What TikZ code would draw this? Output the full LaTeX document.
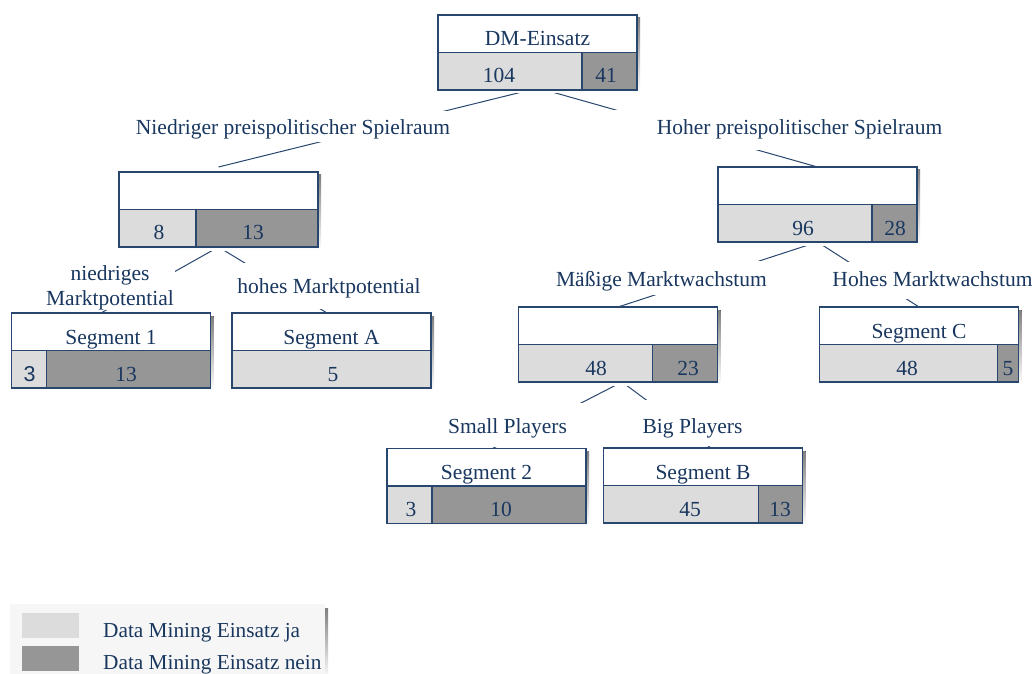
\documentclass[tikz,border=0pt]{standalone}
\usepackage{fontspec}
\setmainfont{Liberation Serif}
\setsansfont{Liberation Sans}
\usetikzlibrary{positioning}
\usetikzlibrary{backgrounds}

\definecolor{txt}{RGB}{25,55,95}
\definecolor{edge}{RGB}{40,70,110}
\definecolor{ja}{RGB}{220,220,220}
\definecolor{nein}{RGB}{150,150,150}
\definecolor{shade}{RGB}{225,223,200}
\definecolor{legbg}{RGB}{246,246,246}

\begin{document}
\begin{tikzpicture}[x=1pt, y=-1pt,
    every node/.style={text=txt, font=\fontsize{21.5pt}{25pt}\selectfont},
    box/.style={fill=white, minimum width=199pt, minimum height=75pt, inner sep=0pt, outer sep=0pt},
    boxline/.style={draw=edge, line width=1.3pt},
    conn/.style={draw=edge, line width=1pt},
    lab/.style={fill=white, anchor=base, inner xsep=1pt, inner ysep=0pt},
    cell/.style={anchor=base, inner sep=0pt},
    key/.style={minimum width=57pt, minimum height=25pt, inner sep=0pt}]

  \useasboundingbox (0,0) rectangle (1034,674);

  % boxes: name/x/y/split/title/left/left x/right/right x
  \foreach \nm/\cx/\cy/\sp/\ttl/\lnum/\lx/\rnum/\rx in {
      dm/537.5/52.5/144/DM-Einsatz/104/499/41/606,
      n1/218.5/209.5/77//8/159/13/253,
      n2/817.5/204.5/154//96/803/28/895,
      s1/111/350.5/35/Segment 1/{\sffamily 3}/29.5/13/126,
      sa/331.5/350.5/199/Segment A/5/333//430,
      n3/618/344.5/134//48/596/23/688,
      sc/919/344.5/178/Segment C/48/907/5/1008,
      s2/486.5/486/45/Segment 2/3/411/10/501,
      sb/703/485.5/155/Segment B/45/690/13/780}
  {
    % shadow, cells and frame
    \fill[shade] (\cx-96.5,\cy-34.5) rectangle (\cx+102.5,\cy+40.5);
    \node[box] (\nm) at (\cx,\cy) {};
    \fill[ja] (\nm.west) rectangle (\cx-99.5+\sp,\cy+37.5);
    \fill[nein] (\cx-99.5+\sp,\cy) rectangle (\nm.south east);
    \draw[boxline] (\nm.north west) rectangle (\nm.south east)
      (\nm.west) -- (\nm.east)
      (\cx-99.5+\sp,\cy) -- (\cx-99.5+\sp,\cy+37.5);
    \node[cell] (\nm-t) at (\cx,\cy-6.5) {\ttl};
    \node[cell] (\nm-l) at (\lx,\cy+30.5) {\lnum};
    \node[cell] (\nm-r) at (\rx,\cy+30.5) {\rnum};
  }

  % tree connectors
  \begin{scope}[on background layer]
    \draw[conn] ([xshift=-7.5pt]dm.south) -- ([yshift=5pt]n1.north);
    \draw[conn] ([xshift=7.5pt]dm.south) -- (n2.north);
    \draw[conn] (n1.south) -- ([xshift=-10pt]s1.north);
    \draw[conn] (n1.south) -- ([xshift=-4.5pt]sa.north);
    \draw[conn] (n2.south) -- (n3.north);
    \draw[conn] (n2.south) -- (sc.north);
    \draw[conn] ([xshift=4pt]n3.south) -- ([xshift=6pt]s2.north);
    \draw[conn] ([xshift=4pt]n3.south) -- ([xshift=8pt]sb.north);
  \end{scope}

  % split labels
  \node[lab, text height=24pt, text depth=7pt] (niedrig) at (293,135) {Niedriger preispolitischer Spielraum};
  \node[lab, text height=25pt, text depth=15pt, minimum width=374pt] (hoch) at (799.5,135) {Hoher preispolitischer Spielraum};
  \node[lab, anchor=north, align=center] (npot) at (110,265) {niedriges\\Marktpotential};
  \node[lab, text height=30pt, text depth=16pt] (hpot) at (329,293) {hohes Marktpotential};
  \node[lab, text height=25pt, text depth=9pt] (mwachs) at (661.5,286) {Mäßige Marktwachstum};
  \node[lab, text height=24pt, text depth=13pt] (hwachs) at (932.5,286) {Hohes Marktwachstum};
  \node[lab, text height=30pt, text depth=14pt, minimum width=148pt] (small) at (507.5,433) {Small Players};
  \node[lab, text height=33pt, text depth=13pt] (big) at (692.5,433) {Big Players};

  % legend
  \fill[legbg] (10,604) rectangle (325,680);
  \fill[shade] (325,608) rectangle (328,680);
  \node[key, fill=ja] (keyja) at (50.5,625.5) {};
  \node[key, fill=nein] (keynein) at (50.5,658) {};
  \node[anchor=base west, inner sep=0pt, font=\fontsize{21.3pt}{25pt}\selectfont] (txtja) at (103,637) {Data Mining Einsatz ja};
  \node[anchor=base west, inner sep=0pt, font=\fontsize{21.3pt}{25pt}\selectfont] (txtnein) at (103,669) {Data Mining Einsatz nein};
\end{tikzpicture}
\end{document}
